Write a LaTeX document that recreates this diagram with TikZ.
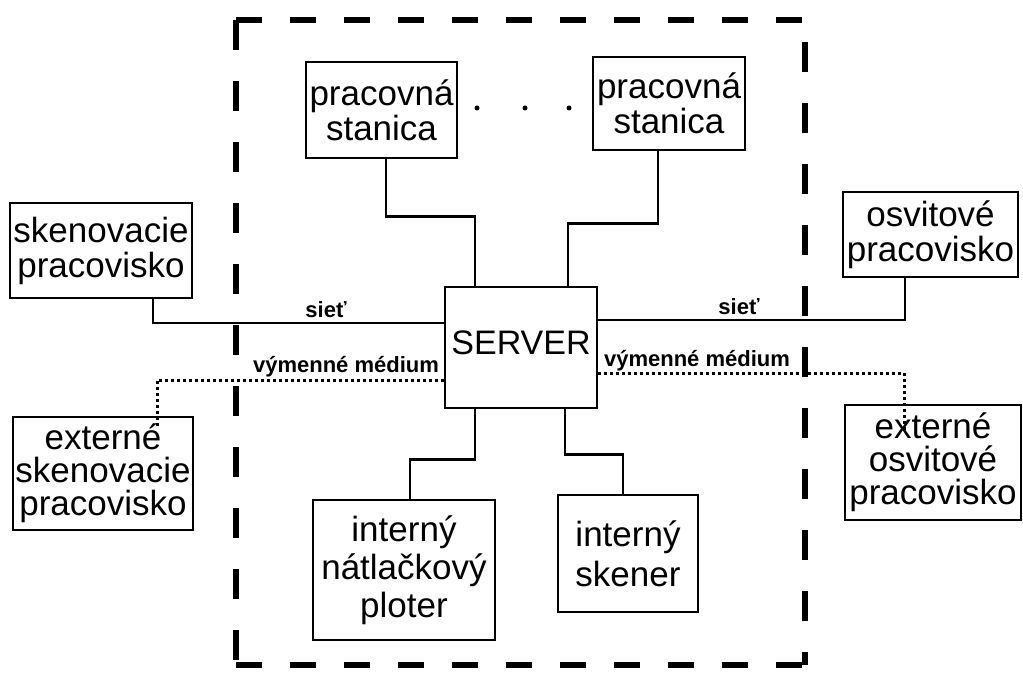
\documentclass[tikz,border=0pt]{standalone}
\usepackage{fontspec}
\setmainfont{Liberation Sans}
\begin{document}
\begin{tikzpicture}[x=1pt,y=-1pt,
  box/.style={draw, line width=2.6pt, inner sep=0pt, align=center,
    font=\fontsize{35}{35}\selectfont},
  link/.style={line width=2.6pt},
  medium/.style={line width=3pt, dash pattern=on 2.5pt off 3.5pt},
  hborder/.style={line width=6pt, dash pattern=on 26pt off 28pt},
  vborder/.style={line width=6pt, dash pattern=on 30pt off 31pt},
  lbl/.style={font=\bfseries\fontsize{22}{24}\selectfont, inner sep=0pt},
  dot/.style={circle, fill, inner sep=0pt, minimum size=5pt}]
\useasboundingbox (0,0) rectangle (1023,676);

% dashed frame of the local system
\coordinate (bl) at (236,665);
\coordinate (tl) at (236,20);
\coordinate (tr) at (805,20);
\coordinate (br) at (805,665);
\draw[hborder] (tl) -- (tr);
\draw[hborder] (bl) -- (br);
\draw[vborder] (tl) -- (bl);
\draw[vborder, dash phase=39pt] (tr) -- (br);

% workstations
\node[box, minimum width=151pt, minimum height=96pt] (ps1) at (381.5,110) {pracovná\\stanica};
\node[box, minimum width=152pt, minimum height=93pt] (ps2) at (669,103.5) {pracovná\\stanica};
\node[dot] (d1) at (477,108) {};
\node[dot] (d2) at (525,108) {};
\node[dot] (d3) at (569,108) {};

% server
\node[box, minimum width=152pt, minimum height=121pt, font=\fontsize{34}{36}\selectfont] (server) at (521,347.5) {\raisebox{10pt}{SERVER}};

% outside workplaces
\node[box, minimum width=182pt, minimum height=95pt] (skn) at (101,250.5) {skenovacie\\pracovisko};
\node[box, minimum width=180pt, minimum height=113pt, font=\fontsize{35}{33}\selectfont] (extsk) at (103,473.5) {externé\\skenovacie\\pracovisko};
\node[box, minimum width=175pt, minimum height=85pt] (osv) at (930.5,234.5) {osvitové\\pracovisko};
\node[box, minimum width=176pt, minimum height=115pt, font=\fontsize{35}{33}\selectfont] (extosv) at (933,462.5) {externé\\osvitové\\pracovisko};

% internal devices
\node[box, minimum width=182pt, minimum height=140pt, font=\fontsize{35}{38}\selectfont] (plot) at (404,570) {interný\\nátlačkový\\ploter};
\node[box, minimum width=140pt, minimum height=117pt, font=\fontsize{35}{40}\selectfont] (skener) at (628,553.5) {interný\\skener};

% connections
\draw[link] ([xshift=4.5pt]ps1.south) -- ++(0,57) -| ([xshift=-46pt]server.north);
\draw[link] ([xshift=-11pt]ps2.south) -- ++(0,72) -| ([xshift=47pt]server.north);
\draw[link] ([xshift=52pt]skn.south) |- ([yshift=24.5pt]server.west);
\draw[link] ([yshift=27.5pt]server.east) -| ([xshift=-25.5pt]osv.south);
\draw[medium] ([yshift=-32.5pt]server.west) -| ([xshift=54pt,yshift=-13pt]extsk.north);
\draw[medium] ([yshift=-25.5pt]server.east) -| ([xshift=-29pt,yshift=-27pt]extosv.north);
\draw[link] ([xshift=-46pt]server.south) -- ++(0,50) -| ([xshift=6pt]plot.north);
\draw[link] ([xshift=44pt]server.south) -- ++(0,45) -| ([xshift=-5pt]skener.north);

% connection labels
\node[lbl] (net1) at (326,310) {sieť};
\node[lbl] (net2) at (739,307) {sieť};
\node[lbl] (med1) at (346,367) {výmenné médium};
\node[lbl] (med2) at (697,361) {výmenné médium};
\end{tikzpicture}
\end{document}
